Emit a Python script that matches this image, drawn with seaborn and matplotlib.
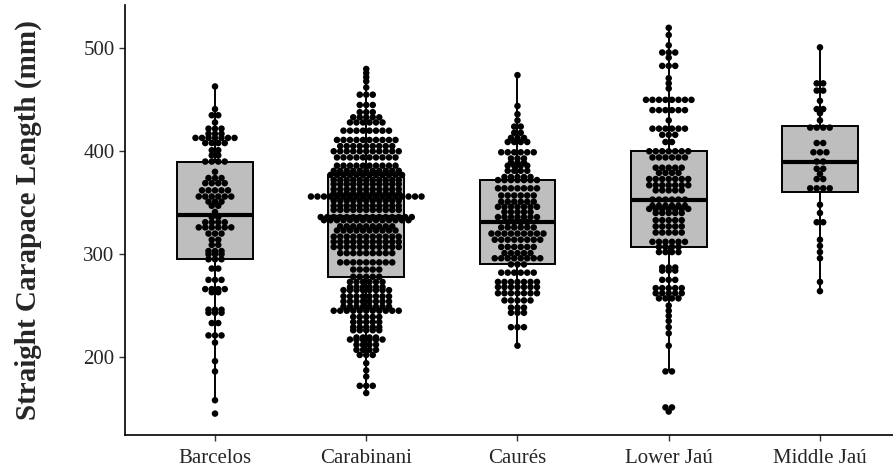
import matplotlib
matplotlib.use("Agg")
import matplotlib.pyplot as plt
import numpy as np
import pandas as pd
import seaborn as sns

# values read from the dotplot rows: row level (mm) and number of dots in that row
sites = ['Barcelos', 'Carabinani', 'Caurés', 'Lower Jaú', 'Middle Jaú']

barcelos_mm = [463, 441, 435, 428, 422, 417, 413, 408, 401, 396, 390, 380, 374, 369, 362,
               356, 351, 347, 341, 336, 331, 326, 320, 314, 309, 303, 300, 295, 286, 275,
               266, 263, 246, 243, 233, 221, 214, 196, 186, 158, 145]
barcelos_n = [1, 1, 2, 1, 3, 3, 7, 4, 2, 2, 4, 1, 3, 4, 5,
              6, 3, 2, 1, 2, 4, 6, 3, 2, 2, 3, 3, 3, 2, 3,
              4, 2, 3, 3, 2, 3, 1, 1, 1, 1, 1]

carabinani_mm = [480, 476, 472, 468, 462, 455, 445, 438, 433, 428, 420, 411, 405, 400, 394,
                 386, 381, 377, 372, 368, 363, 359, 356, 352, 347, 343, 336, 333, 327, 323,
                 317, 312, 307, 301, 292, 285, 278, 273, 268, 265, 259, 254, 249, 245, 239,
                 234, 229, 226, 219, 217, 212, 207, 202, 194, 187, 181, 172, 165]
carabinani_n = [1, 1, 1, 1, 1, 3, 3, 3, 5, 6, 8, 10, 9, 11, 10,
                10, 11, 12, 11, 11, 11, 11, 18, 11, 11, 11, 15, 14, 9, 10,
                11, 11, 11, 9, 9, 5, 5, 6, 6, 8, 8, 8, 8, 11, 5,
                5, 5, 5, 4, 6, 4, 4, 3, 1, 1, 1, 3, 1]

caures_mm = [474, 444, 436, 430, 424, 418, 413, 409, 399, 393, 389, 386, 381, 375, 372,
             364, 357, 351, 346, 341, 336, 331, 326, 320, 314, 307, 301, 296, 290, 282,
             273, 268, 262, 255, 248, 243, 229, 211]
caures_n = [1, 1, 1, 1, 2, 2, 3, 4, 6, 3, 3, 4, 4, 5, 7,
            7, 6, 6, 7, 5, 7, 4, 6, 9, 8, 6, 5, 8, 3, 6,
            7, 7, 7, 5, 3, 3, 3, 1]

lower_jau_mm = [520, 513, 503, 496, 491, 483, 471, 466, 461, 450, 440, 430, 422, 416, 409,
                400, 394, 384, 379, 373, 367, 362, 353, 347, 344, 340, 333, 327, 321, 312,
                307, 302, 287, 284, 275, 267, 262, 257, 250, 245, 240, 235, 229, 223, 211,
                186, 151, 147]
lower_jau_n = [1, 1, 1, 3, 1, 3, 1, 1, 1, 8, 6, 1, 6, 3, 2,
               7, 6, 5, 4, 7, 7, 5, 6, 6, 7, 5, 5, 5, 5, 6,
               4, 4, 3, 3, 3, 5, 5, 4, 1, 1, 1, 1, 1, 1, 1,
               2, 2, 1]

middle_jau_mm = [501, 466, 459, 449, 441, 437, 430, 423, 408, 399, 390, 383, 378, 373, 364,
                 348, 340, 331, 314, 308, 302, 296, 273, 264]
middle_jau_n = [1, 2, 2, 1, 2, 1, 1, 4, 2, 3, 2, 2, 1, 2, 4,
                1, 1, 2, 1, 1, 1, 1, 1, 1]

rows = {
    'Barcelos': (barcelos_mm, barcelos_n),
    'Carabinani': (carabinani_mm, carabinani_n),
    'Caurés': (caures_mm, caures_n),
    'Lower Jaú': (lower_jau_mm, lower_jau_n),
    'Middle Jaú': (middle_jau_mm, middle_jau_n),
}

frames = []
for site, (mm, n) in rows.items():
    frames.append(pd.DataFrame({'site': site, 'scl': np.repeat(mm, n)}))
df = pd.concat(frames, ignore_index=True)

sns.set_style('ticks')
plt.rcParams['font.family'] = ['Liberation Serif', 'DejaVu Serif']

fig = plt.figure(figsize=(8.93, 4.71), dpi=100)
ax = fig.add_axes([0.140, 0.076, 0.860, 0.913])

sns.boxplot(data=df, x='site', y='scl', order=sites, ax=ax, color='#bebebe',
            saturation=1, width=0.5, showfliers=False, showcaps=False, whis=1.5,
            linecolor='black', linewidth=1.4,
            medianprops={'linewidth': 3, 'color': 'black'})

# dotplot: each row of dots stacked centred on the category
step = 0.043
for i, site in enumerate(sites):
    mm, n = rows[site]
    xs, ys = [], []
    for v, k in zip(mm, n):
        offs = (np.arange(k) - (k - 1) / 2) * step
        xs.extend(i + offs)
        ys.extend([v] * k)
    ax.scatter(xs, ys, s=22, color='black', edgecolor='none', zorder=5)

ax.set_xlim(-0.595, 4.483)
ax.set_ylim(124, 542)
ax.set_yticks([200, 300, 400, 500])
ax.set_xlabel('')
ax.set_ylabel('Straight Carapace Length (mm)', fontsize=21, fontweight='bold')
ax.yaxis.set_label_coords(-0.108, 0.5)
ax.tick_params(axis='both', labelsize=15, length=4, width=1, color='#333333')
ax.tick_params(axis='x', pad=6)
for side in ['top', 'right']:
    ax.spines[side].set_visible(False)
for side in ['left', 'bottom']:
    ax.spines[side].set_linewidth(1.2)
    ax.spines[side].set_color('black')

fig.savefig('out.png', dpi=100)
